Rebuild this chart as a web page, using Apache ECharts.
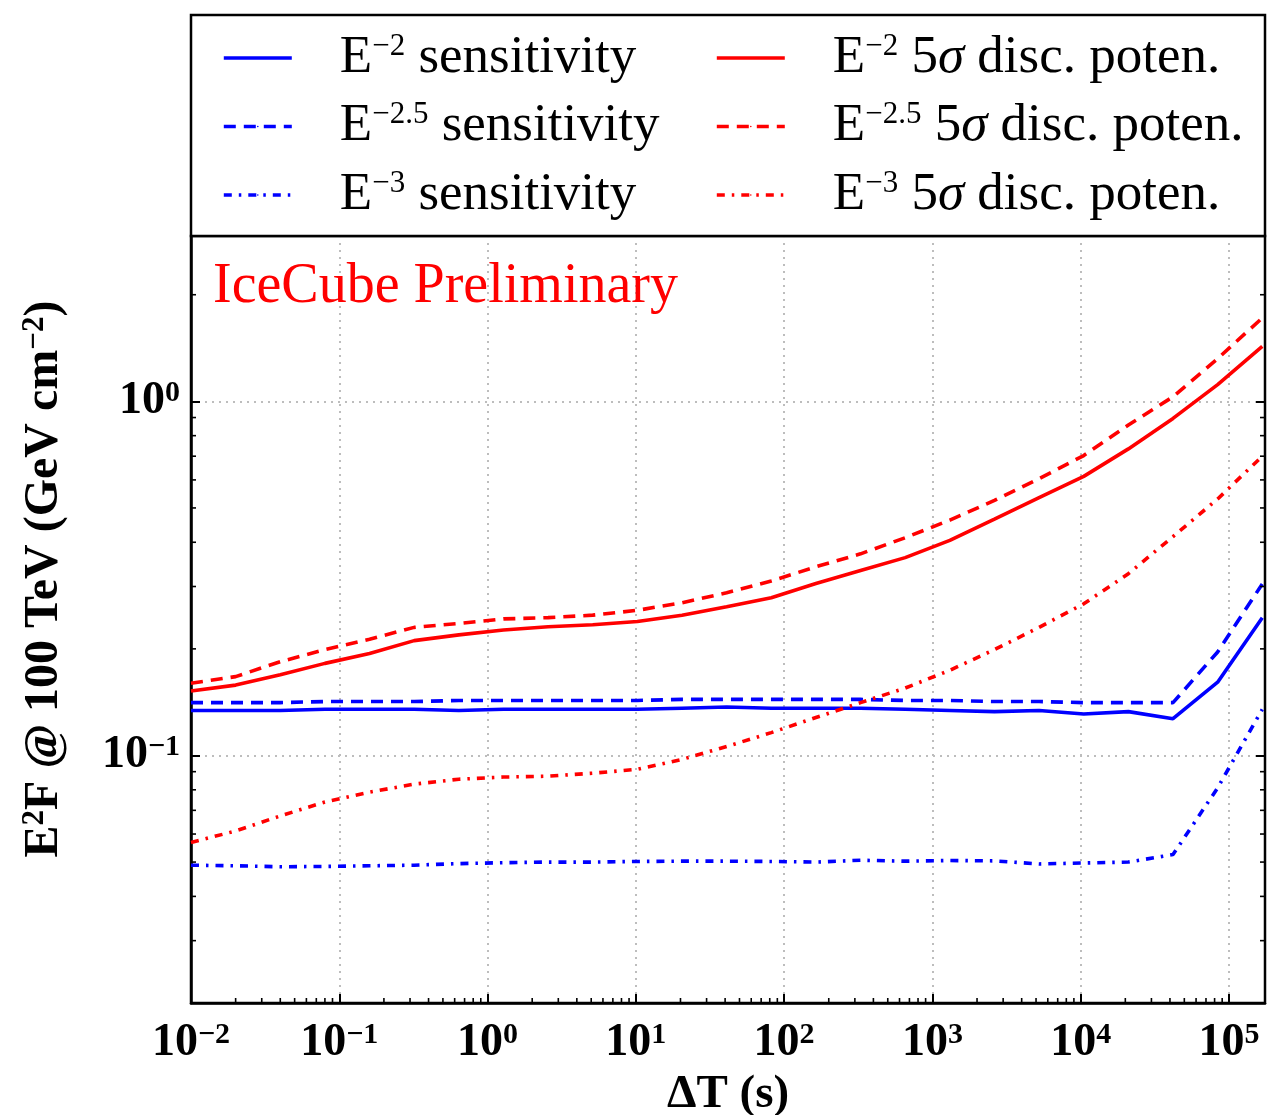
<!DOCTYPE html>
<html>
<head>
<meta charset="utf-8">
<script src="https://cdn.jsdelivr.net/npm/echarts@6/dist/echarts.min.js"></script>
<style>html,body{margin:0;padding:0;background:#fff;overflow:hidden}#c{width:1269px;height:1115px}</style>
</head>
<body>
<div id="c"></div>
<script>
// ---- data ----
const deltaT = [0.01, 0.02, 0.04, 0.08, 0.16, 0.32, 0.64, 1.28, 2.56, 5.12, 10.24, 20.48, 40.96,
  81.92, 163.84, 327.68, 655.36, 1310.72, 2621.44, 5242.88, 10485.76, 20971.52, 41943.04, 83886.08, 167772.16];

const sensE2  = [0.134,0.134,0.134,0.135,0.135,0.135,0.134,0.135,0.135,0.135,0.135,0.136,0.137,0.136,0.136,0.136,0.135,0.134,0.133,0.134,0.131,0.133,0.127,0.161,0.245];
const sensE25 = [0.141,0.141,0.141,0.142,0.142,0.142,0.143,0.143,0.143,0.143,0.143,0.144,0.144,0.144,0.144,0.144,0.143,0.143,0.142,0.142,0.141,0.141,0.141,0.196,0.305];
const sensE3  = [0.0490,0.0488,0.0485,0.0486,0.0488,0.0490,0.0495,0.0498,0.0500,0.0500,0.0502,0.0503,0.0503,0.0502,0.0500,0.0506,0.0503,0.0505,0.0504,0.0494,0.0497,0.0500,0.0525,0.0810,0.135];
const discE2  = [0.152,0.158,0.169,0.182,0.194,0.211,0.219,0.226,0.231,0.234,0.239,0.249,0.263,0.279,0.306,0.333,0.362,0.405,0.465,0.535,0.614,0.734,0.895,1.115,1.43];
const discE25 = [0.160,0.167,0.184,0.199,0.213,0.230,0.236,0.243,0.245,0.249,0.257,0.270,0.288,0.311,0.341,0.371,0.412,0.462,0.525,0.605,0.703,0.857,1.03,1.32,1.72];
const discE3  = [0.0568,0.0612,0.0675,0.0739,0.0788,0.0830,0.0857,0.0869,0.0874,0.0891,0.0914,0.0975,0.106,0.116,0.128,0.141,0.155,0.174,0.199,0.230,0.268,0.326,0.415,0.530,0.700];

const seriesNames = ['E-2 sensitivity','E-2.5 sensitivity','E-3 sensitivity',
                     'E-2 5sigma disc. poten.','E-2.5 5sigma disc. poten.','E-3 5sigma disc. poten.'];
const legendExponents = ['−2','−2.5','−3','−2','−2.5','−3'];
const xRange = [0.01, 1.75e5];
const yRange = [0.02, 2.93];

// ---- styling ----
const SERIF = 'Liberation Serif';
const BLUE = '#0000ff', RED = '#ff0000';
const LW = 3.6;
const SOLID = 'solid', DASH = [12, 8], DASHDOT = [8, 7, 2.5, 7];

function powLabel(v) {
  const e = Math.log10(v), r = Math.round(e);
  if (Math.abs(e - r) > 1e-6) return '';
  return '{b|10}{s|' + (r < 0 ? '−' + (-r) : String(r)) + '}';
}
const tickRich = {
  b: {fontSize: 46, fontWeight: 'bold', fontFamily: SERIF, lineHeight: 46, color: '#000'},
  s: {fontSize: 30, fontWeight: 'bold', fontFamily: SERIF, lineHeight: 28, verticalAlign: 'top', color: '#000'}
};
const legendRich = {
  g: {width: 43},
  n: {fontSize: 53, fontFamily: SERIF, lineHeight: 54, color: '#000'},
  s: {fontSize: 31, fontFamily: SERIF, lineHeight: 40, verticalAlign: 'top', color: '#000'},
  i: {fontSize: 53, fontFamily: SERIF, fontStyle: 'italic', lineHeight: 54, color: '#000'}
};
function legendText(name) {
  const k = seriesNames.indexOf(name);
  const tail = k < 3 ? '{n| sensitivity}' : '{n| 5}{i|σ}{n| disc. poten.}';
  return '{g| }{n|E}{s|' + legendExponents[k] + '}' + tail;
}

// minor tick values
const yMinor = [], xMinor = [];
for (let e = -2; e <= 0; e++) for (let k = 2; k <= 9; k++) {
  const v = k * Math.pow(10, e); if (v > yRange[0] && v < yRange[1]) yMinor.push(v);
}
for (let e = -2; e <= 5; e++) for (let k = 2; k <= 9; k++) {
  const v = k * Math.pow(10, e); if (v > xRange[0] && v < xRange[1]) xMinor.push(v);
}
function minorTicks(vals, axis) {
  return {
    type: 'custom', silent: true, z: 6, clip: false,
    data: vals.map(v => axis === 'y' ? [xRange[0], v] : [v, yRange[0]]),
    renderItem: function (params, api) {
      const cs = params.coordSys;
      const p = api.coord([api.value(0), api.value(1)]);
      const st = {stroke: '#000', lineWidth: 1.6};
      if (axis === 'y') {
        return {type: 'group', children: [
          {type: 'line', shape: {x1: cs.x, y1: p[1], x2: cs.x + 5, y2: p[1]}, style: st},
          {type: 'line', shape: {x1: cs.x + cs.width, y1: p[1], x2: cs.x + cs.width - 5, y2: p[1]}, style: st}
        ]};
      }
      return {type: 'line', shape: {x1: p[0], y1: cs.y + cs.height, x2: p[0], y2: cs.y + cs.height - 5}, style: st};
    }
  };
}

function lineSeries(name, values, color, type) {
  return {
    name: name, type: 'line', symbol: 'none', showSymbol: false, z: 3,
    data: deltaT.map((t, i) => [t, values[i]]),
    lineStyle: {color: color, width: LW, type: type},
    itemStyle: {color: color}
  };
}

const chart = echarts.init(document.getElementById('c'), null, {renderer: 'canvas'});
const axisLineStyle = {color: '#000', width: 2.5};
const gridLine = {show: true, showMinLine: false, showMaxLine: false,
                  lineStyle: {color: '#bdbdbd', width: 2, type: [2, 5]}};
const legendBase = {
  top: 31, orient: 'vertical', padding: 0, itemWidth: 68, itemHeight: 2, itemGap: 15,
  selectedMode: false, z: 10, formatter: legendText,
  lineStyle: {width: LW},
  textStyle: {color: '#000', rich: legendRich}
};
const option = {
  animation: false,
  backgroundColor: '#fff',
  title: {
    text: 'IceCube Preliminary', left: 213, top: 259, padding: 0,
    textStyle: {color: RED, fontSize: 56, fontFamily: SERIF, fontWeight: 'normal', lineHeight: 56}
  },
  grid: {left: 191, right: 4, top: 236, bottom: 112, show: true, borderColor: '#000', borderWidth: 2.5,
         outerBoundsMode: 'none', containLabel: false},
  xAxis: [{
    type: 'log', logBase: 10, min: xRange[0], max: xRange[1], splitNumber: 7,
    axisLine: {show: true, lineStyle: axisLineStyle},
    axisTick: {show: true, inside: true, length: 9, lineStyle: {color: '#000', width: 2}},
    axisLabel: {interval: 0, margin: 17, formatter: powLabel, rich: tickRich},
    splitLine: gridLine,
    name: 'ΔT (s)', nameLocation: 'middle', nameGap: 65,
    nameTextStyle: {fontSize: 47, fontWeight: 'bold', fontFamily: SERIF, color: '#000', lineHeight: 47}
  }],
  yAxis: [{
    type: 'log', logBase: 10, min: yRange[0], max: yRange[1],
    axisLine: {show: true, lineStyle: axisLineStyle},
    axisTick: {show: true, inside: true, length: 9, lineStyle: {color: '#000', width: 2}},
    axisLabel: {interval: 0, margin: 11, formatter: powLabel, rich: tickRich},
    splitLine: gridLine
  }, {
    type: 'log', logBase: 10, min: yRange[0], max: yRange[1], position: 'right',
    axisLine: {show: false},
    axisTick: {show: true, inside: true, length: 9, lineStyle: {color: '#000', width: 2}},
    axisLabel: {show: false}, splitLine: {show: false}
  }],
  legend: [
    Object.assign({}, legendBase, {left: 222, data: seriesNames.slice(0, 3)}),
    Object.assign({}, legendBase, {left: 715, data: seriesNames.slice(3)})
  ],
  graphic: [{
    type: 'rect', z: 1, shape: {x: 191, y: 15, width: 1074, height: 221},
    style: {fill: '#fff', stroke: '#000', lineWidth: 2.5}
  }, {
    type: 'text', z: 5, x: 45, y: 579, rotation: Math.PI / 2,
    style: {
      text: '{m|E}{s|2}{m|F @ 100 TeV (GeV cm}{s|−2}{m|)}',
      align: 'center', verticalAlign: 'middle', fill: '#000',
      rich: {
        m: {fontSize: 48, fontWeight: 'bold', fontFamily: SERIF, lineHeight: 52, fill: '#000'},
        s: {fontSize: 31, fontWeight: 'bold', fontFamily: SERIF, lineHeight: 36, verticalAlign: 'top', fill: '#000'}
      }
    }
  }],
  series: [
    lineSeries(seriesNames[0], sensE2, BLUE, SOLID),
    lineSeries(seriesNames[1], sensE25, BLUE, DASH),
    lineSeries(seriesNames[2], sensE3, BLUE, DASHDOT),
    lineSeries(seriesNames[3], discE2, RED, SOLID),
    lineSeries(seriesNames[4], discE25, RED, DASH),
    lineSeries(seriesNames[5], discE3, RED, DASHDOT),
    minorTicks(yMinor, 'y'),
    minorTicks(xMinor, 'x')
  ]
};
chart.setOption(option);
</script>
</body>
</html>
